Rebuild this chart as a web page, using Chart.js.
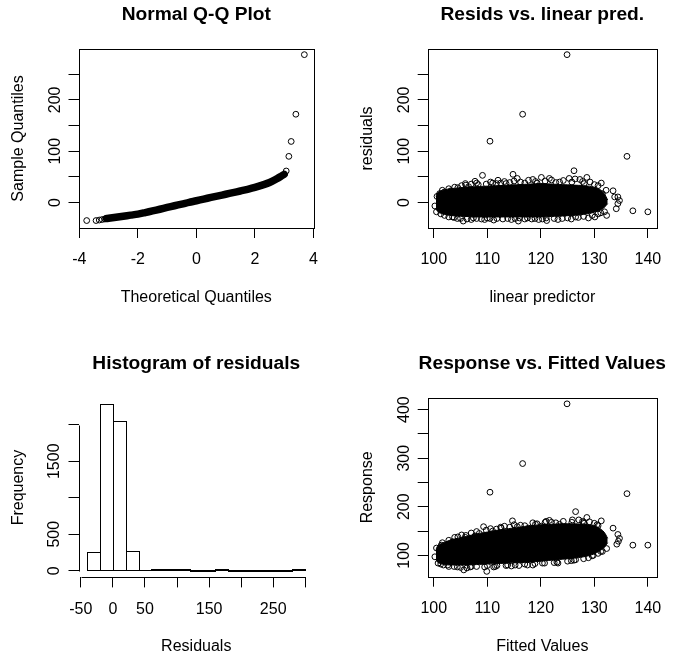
<!DOCTYPE html>
<html>
<head>
<meta charset="utf-8">
<title>GAM check plots</title>
<script src="https://cdn.jsdelivr.net/npm/chart.js@4/dist/chart.umd.min.js"></script>
<style>
  body { margin: 0; background: #fff; }
  #wrap { position: relative; width: 674px; height: 662px; }
  #wrap canvas { position: absolute; }
</style>
</head>
<body>
<div id="wrap">
  <canvas id="qqChart" width="337" height="331" style="left:0;top:0"></canvas>
  <canvas id="residChart" width="337" height="331" style="left:337px;top:0"></canvas>
  <canvas id="histChart" width="337" height="331" style="left:0;top:331px"></canvas>
  <canvas id="respChart" width="337" height="331" style="left:337px;top:331px"></canvas>
</div>
<script>
/* ---------------- data ---------------- */

// Normal Q-Q plot: dense band (centre line) and the separate tail points
const qqTheo   = [-3.07, -3.0, -2.75, -2.5, -2.25, -2.0, -1.75, -1.5, -1.25, -1.0, -0.75, -0.5, -0.25, 0, 0.25, 0.5, 0.75, 1.0, 1.25, 1.5, 1.75, 2.0, 2.25, 2.5, 2.75, 2.9, 3.0];
const qqSample = [-31, -30.5, -28.5, -26.5, -24.5, -22.5, -19.5, -16.3, -13, -9.5, -6.2, -3, 0.5, 3.5, 6.8, 10, 13, 16.2, 19.3, 22.5, 25.8, 29.5, 34, 39, 46.5, 51.5, 55];
const qqTailTheo   = [-3.75, -3.43, -3.32, -3.22, -3.13, 3.07, 3.16, 3.24, 3.40, 3.69];
const qqTailSample = [-35, -35, -34, -33, -32, 61.5, 90, 119, 172, 288];

// Core of the point cloud (where the circles merge into solid black)
const coreFit   = [100.4, 100.8, 102, 104, 106, 108, 110, 112, 114, 116, 118, 120, 122, 124, 126, 128, 129.5, 130.8, 131.8, 132.5];
const residHigh = [12, 20, 25, 28, 30, 31, 32, 33, 34, 35, 36, 37, 36, 35, 34, 33, 31, 27, 18, 5];
const residLow  = [-12, -18, -23, -26, -27, -28, -28, -28, -28, -28, -28, -28, -27, -26, -25, -23, -20, -16, -10, -2];
const respHigh  = [112, 120, 127, 134, 139, 144, 148, 152, 155, 158, 161, 163, 164, 165, 165, 164, 162, 157, 148, 135];
const respLow   = [92, 85, 81, 80, 80, 81, 82, 83, 84, 85, 86, 88, 90, 92, 94, 97, 101, 108, 116, 126];

// Circles along the ragged edge of the cloud
const edgeFit = [101.6, 102.8, 103.9, 105.2, 106.0, 107.0, 108.0, 109.8, 110.6, 111.7, 112.5, 113.2, 114.2, 115.0, 116.2, 117.0, 118.5, 119.3, 120.8, 121.6,
                 122.8, 124.2, 125.8, 127.8, 128.1, 130.0, 130.7,
                 101.3, 102.8, 103.8, 105.0, 106.2, 107.0, 108.0, 109.5, 110.0, 111.2, 111.8, 113.8, 114.5, 115.2, 117.0, 117.5, 118.9, 120.3, 122.5,
                 123.2, 125.0, 125.7, 126.5, 128.0, 128.9, 129.6, 130.7, 131.2];
const edgeResid = [24, 27, 30, 33, 34, 36, 38, 36, 40, 37, 38, 41, 39, 42, 40, 38, 45, 38, 42, 47,
                   39, 43, 40, 41, 37, 35, 33,
                   -22, -28, -29, -31, -32, -33, -31, -33, -30, -34, -31, -31, -33, -31, -32, -30, -31, -32, -31,
                   -33, -30, -32, -28, -27, -30, -25, -22, -20];
const edgeResp = [126, 131, 137, 142, 141, 146, 149, 152, 155, 154, 158, 160, 158, 163, 162, 161, 167, 165, 168, 172,
                  167, 170, 168, 170, 166, 166, 161,
                  82, 77, 77, 75, 74, 77, 77, 76, 79, 76, 79, 80, 78, 80, 82, 80, 83, 84, 85,
                  84, 88, 89, 91, 93, 95, 99, 104, 108];

// Individual circles near the cloud and the outliers
const linPred = [100.2, 100.5, 100.6, 101.1, 102.0, 102.0, 103.2, 103.5, 104.4, 104.5, 105.5, 105.9, 106.5, 107.4, 107.7, 108.3, 108.9, 109.1, 110.5, 110.5,
                 111.0, 112.0, 112.9, 113.5, 114.8, 115.6, 115.8, 116.0, 116.6, 117.7, 118.3, 119.0, 119.6, 120.1, 121.0, 121.1, 122.0, 123.5, 124.0, 124.9,
                 125.3, 126.2, 126.4, 127.0, 127.3, 128.6, 129.2, 130.1, 131.3, 131.5, 131.9, 132.2, 132.3, 133.5, 133.8, 134.1, 134.4, 134.4, 134.7, 136.1,
                 137.2, 140.0];
const residuals = [-6.6, -18, 12, 17.5, 20.7, -25, 23, -28, -31, 29, -36, 37, 31, -30, 41.5, 35, -32, 53, 119.5, -31,
                   38, 43.5, -32, 37, 55, 47, -36, -30, 172, 43.5, -32, 41, -33, 49, -30, -35, 44, 40, -31, 288,
                   47, 62, 46, -29, 45, 49, 40, -28, 38, 17.5, -18, 24, -25, 23, 11, -12, 11, -2, 4, 90,
                   -16, -18];

const fitted = [100.2, 100.5, 100.8, 101.4, 101.8, 102.6, 103.5, 104.4, 104.5, 105.6, 105.9, 106.8, 107.7, 108.5, 109.3, 109.9, 110.5, 111.0, 111.5, 112.6,
                113.5, 114.7, 115.6, 115.9, 116.6, 117.7, 118.5, 119.0, 120.1, 120.7, 121.0, 122.0, 123.0, 123.5, 124.9, 125.9, 126.2, 126.5, 127.1, 128.0,
                128.6, 129.1, 129.8, 130.5, 131.3, 131.5, 132.3, 133.5, 134.4, 134.7, 134.5, 134.2, 136.1, 137.2, 140.0];
const response = [97, 115, 84, 121, 80, 80, 128, 76, 138, 70, 137, 76, 140, 145, 159, 67, 230, 150, 77, 156,
                  79, 171, 159, 79, 289, 156, 80, 164, 160, 84, 170, 168, 86, 164, 412, 173, 90, 190, 173, 168,
                  178, 169, 100, 163, 171, 108, 114, 156, 143, 135, 129, 123, 227, 121, 121];

// Histogram of residuals
const histBreaks = [-40, -20, 0, 20, 40, 60, 80, 100, 120, 140, 160, 180, 200, 220, 240, 260, 280, 300];
const histCounts = [256, 2279, 2046, 274, 16, 3, 1, 1, 0, 0, 1, 0, 0, 0, 0, 0, 1];

// Axis ticks and their labels (blank = tick mark only, as in the original)
const qqXTicks = [-4, -2, 0, 2, 4];
const qqYTicks = [0, 50, 100, 150, 200, 250];
const qqYLabels = ['0', '', '100', '', '200', ''];
const fitTicks = [100, 110, 120, 130, 140];
const histXTicks = [-50, 0, 50, 100, 150, 200, 250, 300];
const histXLabels = ['-50', '0', '50', '', '150', '', '250', ''];
const histYTicks = [0, 500, 1000, 1500, 2000];
const histYLabels = ['0', '500', '', '1500', ''];
const respTicks = [100, 150, 200, 250, 300, 350, 400];
const respLabels = ['100', '', '200', '', '300', '', '400'];

/* ---------------- helpers ---------------- */

Chart.defaults.font.family = '"Liberation Sans", Arial, Helvetica, sans-serif';
Chart.defaults.color = '#000';

const AXIS_SPACE = 60;   // fixed room given to each axis so the plot box lands where R put it
const pts = (xs, ys) => xs.map((x, i) => ({ x, y: ys[i] }));

// R-style axis: ticks outside, no grid, labels given explicitly
function axis(min, max, ticks, labels, vertical, pad) {
    return {
        type: 'linear',
        min, max,
        offset: false,
        afterBuildTicks: s => { s.ticks = ticks.map(v => ({ value: v })); },
        afterFit: s => { if (vertical) s.width = AXIS_SPACE; else s.height = AXIS_SPACE; },
        grid: { display: true, drawOnChartArea: false, drawTicks: true, tickLength: 10, tickColor: '#000', lineWidth: 1, offset: false },
        border: { display: false },
        ticks: {
            autoSkip: false,
            color: '#000',
            font: { size: 16 },
            padding: pad,
            minRotation: vertical ? 90 : 0,
            maxRotation: vertical ? 90 : 0,
            crossAlign: vertical ? 'center' : 'near',
            callback: v => labels[ticks.indexOf(v)]
        }
    };
}

// Box (or bare axis lines), histogram cells, titles and axis labels
const frame = {
    id: 'frame',
    afterDraw(chart, args, opts) {
        const { ctx, chartArea: a, scales } = chart;
        const px = v => Math.round(v) + 0.5;
        ctx.save();
        ctx.strokeStyle = '#000';
        ctx.lineWidth = 1;
        if (opts.box) {
            ctx.strokeRect(px(a.left), px(a.top), Math.round(a.right) - Math.round(a.left), Math.round(a.bottom) - Math.round(a.top));
        } else {
            const xt = scales.x.ticks, yt = scales.y.ticks;
            ctx.beginPath();
            ctx.moveTo(px(scales.x.getPixelForValue(xt[0].value)), px(a.bottom));
            ctx.lineTo(px(scales.x.getPixelForValue(xt[xt.length - 1].value)), px(a.bottom));
            ctx.moveTo(px(a.left), px(scales.y.getPixelForValue(yt[0].value)));
            ctx.lineTo(px(a.left), px(scales.y.getPixelForValue(yt[yt.length - 1].value)));
            ctx.stroke();
        }
        if (opts.bars) {
            // R outlines every histogram cell; near-empty cells collapse to a heavy flat line
            chart.getDatasetMeta(0).data.forEach(el => {
                const { x, y, base, width } = el.getProps(['x', 'y', 'base', 'width'], true);
                const l = px(x - width / 2), r = px(x + width / 2);
                if (base - y < 0.5) {
                    ctx.lineWidth = 2;
                    ctx.beginPath();
                    ctx.moveTo(l - 0.5, Math.round(base));
                    ctx.lineTo(r + 0.5, Math.round(base));
                    ctx.stroke();
                    ctx.lineWidth = 1;
                } else {
                    const t = px(y), b = px(base);
                    ctx.strokeRect(l, t, r - l, b - t);
                }
            });
        }
        const cx = (a.left + a.right) / 2;
        ctx.fillStyle = '#000';
        ctx.textAlign = 'center';
        ctx.textBaseline = 'alphabetic';
        ctx.font = 'bold 19.2px "Liberation Sans", Arial, sans-serif';
        ctx.fillText(opts.title, cx, a.top - 29);
        ctx.font = '16px "Liberation Sans", Arial, sans-serif';
        ctx.fillText(opts.xTitle, cx, a.bottom + 74);
        ctx.translate(a.left - 56, (a.top + a.bottom) / 2);
        ctx.rotate(-Math.PI / 2);
        ctx.fillText(opts.yTitle, 0, 0);
        ctx.restore();
    }
};

// box = where the plot region sits inside the 337x331 panel
function baseOptions(box, x, y, frameOpts) {
    return {
        responsive: false,
        animation: false,
        events: [],
        layout: {
            padding: {
                left: box.left - AXIS_SPACE,
                top: box.top,
                right: 337 - box.right,
                bottom: 331 - box.bottom - AXIS_SPACE
            }
        },
        plugins: { legend: { display: false }, tooltip: { enabled: false }, frame: frameOpts },
        scales: { x, y }
    };
}

const hollow = { pointRadius: 2.9, pointBorderWidth: 1, pointBorderColor: '#000', pointBackgroundColor: 'rgba(0,0,0,0)', showLine: false };
const coreLine = { showLine: true, borderColor: '#000', borderWidth: 1, tension: 0.4, pointRadius: 0 };

/* ---------------- charts ---------------- */

// Normal Q-Q Plot
new Chart(document.getElementById('qqChart'), {
    type: 'scatter',
    data: {
        datasets: [
            { data: pts(qqTailTheo, qqTailSample), ...hollow },
            { data: pts(qqTheo, qqSample), showLine: true, borderColor: '#000', borderWidth: 7.5,
              borderCapStyle: 'round', tension: 0.3, pointRadius: 0 }
        ]
    },
    options: baseOptions({ left: 78.5, top: 49, right: 314, bottom: 228 },
        axis(-4.03, 4.02, qqXTicks, qqXTicks.map(String), false, 12.4),
        axis(-49.5, 299, qqYTicks, qqYLabels, true, 0),
        { box: true, title: 'Normal Q-Q Plot', xTitle: 'Theoretical Quantiles', yTitle: 'Sample Quantiles' }),
    plugins: [frame]
});

// Resids vs. linear pred.
new Chart(document.getElementById('residChart'), {
    type: 'scatter',
    data: {
        datasets: [
            { data: pts(linPred, residuals), ...hollow },
            { data: pts(edgeFit, edgeResid), ...hollow },
            { data: pts(coreFit, residHigh), ...coreLine, fill: '+1', backgroundColor: '#000' },
            { data: pts(coreFit, residLow), ...coreLine }
        ]
    },
    options: baseOptions({ left: 90.7, top: 49, right: 326.7, bottom: 228 },
        axis(98.86, 141.7, fitTicks, fitTicks.map(String), false, 12.4),
        axis(-49.5, 299, qqYTicks, qqYLabels, true, 0),
        { box: true, title: 'Resids vs. linear pred.', xTitle: 'linear predictor', yTitle: 'residuals' }),
    plugins: [frame]
});

// Histogram of residuals
const histMids = histCounts.map((c, i) => (histBreaks[i] + histBreaks[i + 1]) / 2);
new Chart(document.getElementById('histChart'), {
    type: 'bar',
    data: {
        datasets: [{
            data: pts(histMids, histCounts),
            backgroundColor: 'rgba(0,0,0,0)',
            borderWidth: 0,
            barPercentage: 1,
            categoryPercentage: 1
        }]
    },
    options: baseOptions({ left: 78.5, top: 66.7, right: 314, bottom: 246.4 },
        axis(-53.6, 313.6, histXTicks, histXLabels, false, 12.4),
        axis(-91.2, 2370.2, histYTicks, histYLabels, true, -3.6),
        { box: false, bars: true, title: 'Histogram of residuals', xTitle: 'Residuals', yTitle: 'Frequency' }),
    plugins: [frame]
});

// Response vs. Fitted Values
new Chart(document.getElementById('respChart'), {
    type: 'scatter',
    data: {
        datasets: [
            { data: pts(fitted, response), ...hollow },
            { data: pts(edgeFit, edgeResp), ...hollow },
            { data: pts(coreFit, respHigh), ...coreLine, fill: '+1', backgroundColor: '#000' },
            { data: pts(coreFit, respLow), ...coreLine }
        ]
    },
    options: baseOptions({ left: 90.7, top: 67, right: 326.7, bottom: 245.7 },
        axis(98.86, 141.7, fitTicks, fitTicks.map(String), false, 12.4),
        axis(56, 424, respTicks, respLabels, true, 0),
        { box: true, title: 'Response vs. Fitted Values', xTitle: 'Fitted Values', yTitle: 'Response' }),
    plugins: [frame]
});
</script>
</body>
</html>
